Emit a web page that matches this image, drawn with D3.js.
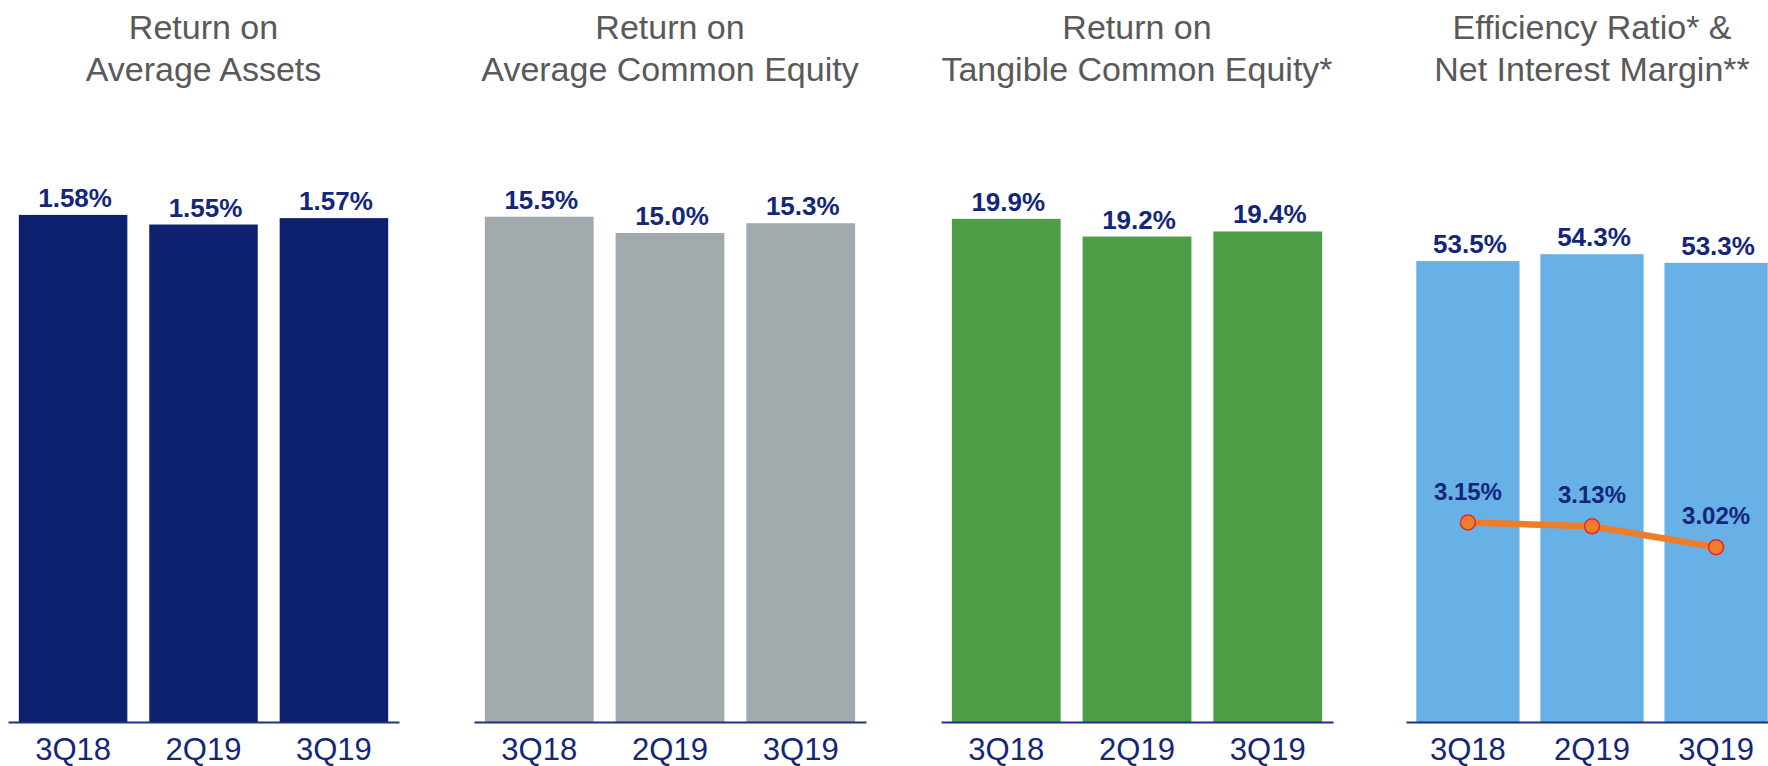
<!DOCTYPE html>
<html lang="en">
<head>
  <meta charset="utf-8" />
  <title>Profitability ratios</title>
  <script type="text/javascript" src="https://cdn.jsdelivr.net/npm/d3@7"></script>
  <style type="text/css">
body { margin: 0; background: white; }
svg { display: block; font-family: "Liberation Sans", Arial, sans-serif; }
  </style>
</head>
<body>

<script type="text/javascript">

var quarters = ["3Q18", "2Q19", "3Q19"];
var titles = [
  ["Return on", "Average Assets"],
  ["Return on", "Average Common Equity"],
  ["Return on", "Tangible Common Equity*"],
  ["Efficiency Ratio* &", "Net Interest Margin**"]
];
var roaa = [1.58, 1.55, 1.57];
var roace = [15.5, 15.0, 15.3];
var rotce = [19.9, 19.2, 19.4];
var efficiency = [53.5, 54.3, 53.3];
var nim = [3.15, 3.13, 3.02];

var w = 1768;
var h = 766;
var base = 722;
var plotTop = 100;   // "top" clashes with window.top
var navy = "#13267a";

// one entry per small panel
var panels = [
  { values: roaa, digits: 2, yMax: 1.938, color: "#0e216f", x0: 8, x1: 399 },
  { values: roace, digits: 1, yMax: 19.08, color: "#a2aaad", x0: 474, x1: 866 },
  { values: rotce, digits: 1, yMax: 24.6, color: "#4f9c46", x0: 941, x1: 1333 },
  { values: efficiency, digits: 1, yMax: 72.2, color: "#67b1e7", x0: 1406, x1: 1778 }
];

var svg = d3.select("body")
    .append("svg")
    .attr("width", w)
    .attr("height", h);

panels.forEach(function(p, pi) {
  var g = svg.append("g");

  var x = d3.scaleBand()
      .domain(quarters)
      .range([p.x0, p.x1])
      .paddingInner(0.168)
      .paddingOuter(0.083);
  var y = d3.scaleLinear()
      .domain([0, p.yMax])
      .range([base, plotTop]);

  var cx = x(quarters[1]) + x.bandwidth() / 2;
  g.append("text")
      .attr("text-anchor", "middle")
      .attr("fill", "#595959")
      .attr("font-size", 34)
      .selectAll("tspan")
      .data(titles[pi])
    .enter().append("tspan")
      .attr("x", cx)
      .attr("y", function(d, i) { return 39 + i * 42; })
      .text(function(d) { return d; });

  g.selectAll("rect")
      .data(p.values)
    .enter().append("rect")
      .attr("x", function(d, i) { return x(quarters[i]); })
      .attr("y", function(d) { return y(d); })
      .attr("width", x.bandwidth())
      .attr("height", function(d) { return base - y(d); })
      .attr("fill", p.color);

  g.selectAll("text.val")
      .data(p.values)
    .enter().append("text")
      .attr("class", "val")
      .attr("x", function(d, i) { return x(quarters[i]) + x.bandwidth() / 2 + 2; })
      .attr("y", function(d) { return y(d) - 8; })
      .attr("text-anchor", "middle")
      .attr("font-size", 26)
      .attr("font-weight", "bold")
      .attr("fill", navy)
      .text(function(d) { return d.toFixed(p.digits) + "%"; });

  var axis = g.append("g")
      .attr("transform", "translate(0," + base + ")")
      .call(d3.axisBottom(x).tickSize(0).tickSizeOuter(0).tickPadding(16));
  axis.select(".domain")
      .attr("stroke", "#1f2f85")
      .attr("stroke-width", 2);
  axis.selectAll(".tick text")
      .attr("font-size", 31)
      .attr("font-family", "\"Liberation Sans\", Arial, sans-serif")
      .attr("fill", navy);

  // net interest margin line on the last panel
  if (pi === 3) {
    var y2 = d3.scaleLinear()
        .domain([2.1, 4.0])
        .range([base, base - 1.9 * 190]);
    var mx = function(d, i) { return x(quarters[i]) + x.bandwidth() / 2; };
    g.append("path")
        .datum(nim)
        .attr("fill", "none")
        .attr("stroke", "#ec7d2b")
        .attr("stroke-width", 6.5)
        .attr("d", d3.line().x(mx).y(function(d) { return y2(d); }));
    g.selectAll("circle")
        .data(nim)
      .enter().append("circle")
        .attr("cx", mx)
        .attr("cy", function(d) { return y2(d); })
        .attr("r", 7.5)
        .attr("fill", "#ee7d2c")
        .attr("stroke", "#e3262a")
        .attr("stroke-width", 1.5);
    g.selectAll("text.nim")
        .data(nim)
      .enter().append("text")
        .attr("class", "nim")
        .attr("x", mx)
        .attr("y", function(d) { return y2(d) - 23; })
        .attr("text-anchor", "middle")
        .attr("font-size", 24)
        .attr("font-weight", "bold")
        .attr("fill", navy)
        .text(function(d) { return d.toFixed(2) + "%"; });
  }
});

</script>

</body>
</html>
